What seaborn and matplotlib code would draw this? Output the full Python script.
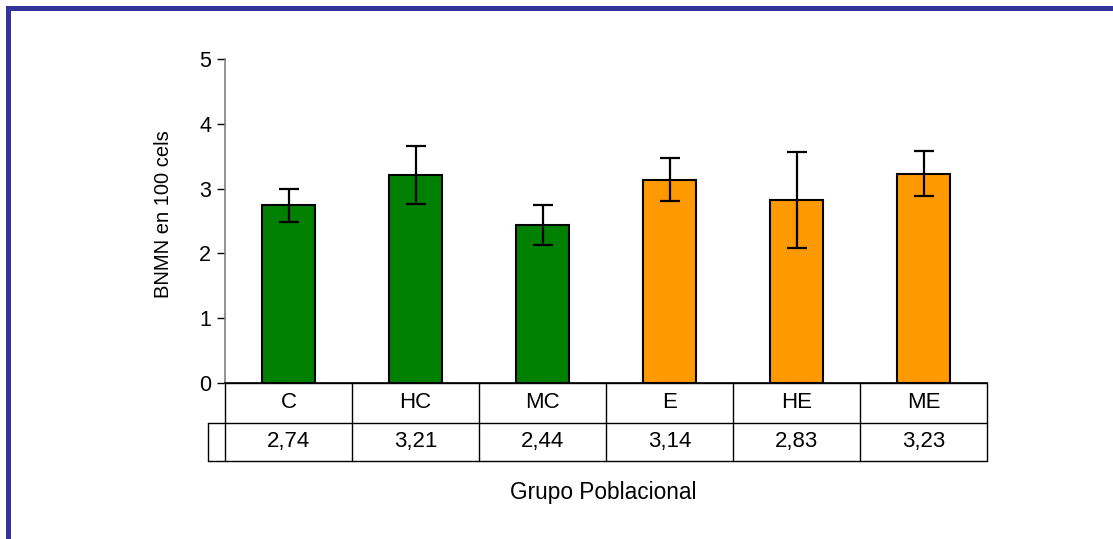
import numpy as np
import pandas as pd
import matplotlib
matplotlib.use("Agg")
import matplotlib.pyplot as plt
import matplotlib.transforms as mtransforms
from matplotlib.lines import Line2D
from matplotlib.patches import Rectangle
import seaborn as sns

# -------------------- data --------------------
categories = ["C", "HC", "MC", "E", "HE", "ME"]
values = [2.74, 3.21, 2.44, 3.14, 2.83, 3.23]
errors = [0.25, 0.45, 0.31, 0.33, 0.74, 0.35]
groups = ["control", "control", "control", "expuesto", "expuesto", "expuesto"]
value_labels = ["2,74", "3,21", "2,44", "3,14", "2,83", "3,23"]
# ----------------------------------------------

W, H, DPI = 1113, 539, 100
GREEN = "#008000"
ORANGE = "#FF9900"
FRAME = "#333399"

sns.set_style("white")
plt.rcParams["font.family"] = ["Liberation Sans", "DejaVu Sans"]
plt.rcParams["text.color"] = "black"
plt.rcParams["axes.labelcolor"] = "black"
plt.rcParams["ytick.color"] = "black"

df = pd.DataFrame({"grupo": categories, "bnmn": values, "tipo": groups})

fig = plt.figure(figsize=(W / DPI, H / DPI), dpi=DPI)
ax = fig.add_axes([225 / W, 1 - 383 / H, (987 - 225) / W, (383 - 59) / H])

sns.barplot(data=df, x="grupo", y="bnmn", hue="tipo",
            palette={"control": GREEN, "expuesto": ORANGE}, saturation=1,
            dodge=False, width=0.41, edgecolor="black", linewidth=1.5,
            legend=False, ax=ax)

xpos = np.arange(len(categories))
ax.errorbar(xpos, values, yerr=errors, fmt="none", ecolor="black",
            elinewidth=1.6, capsize=7, capthick=1.6, zorder=5)

ax.set_xlim(-0.5, len(categories) - 0.5)
ax.set_ylim(0, 5)
ax.set_yticks([0, 1, 2, 3, 4, 5])
ax.tick_params(axis="y", labelsize=15.5, length=6, width=1, color="black",
               left=True, pad=4)
ax.tick_params(axis="x", bottom=False, labelbottom=False)
ax.set_xlabel("")
ax.set_ylabel("BNMN en 100 cels", fontsize=14.5)
ax.yaxis.set_label_coords(-0.068, 0.522)

for side in ["top", "right"]:
    ax.spines[side].set_visible(False)
ax.spines["left"].set_color("#808080")
ax.spines["left"].set_linewidth(1.2)
ax.spines["bottom"].set_color("black")
ax.spines["bottom"].set_linewidth(1.2)

# data table under the axis
trans = mtransforms.blended_transform_factory(ax.transData, ax.transAxes)
px = 1.0 / (383 - 59)
row1 = -40 * px
row2 = -78 * px
left_key = -0.5 - 17 / ((987 - 225) / len(categories))
right = len(categories) - 0.5
lkw = dict(color="black", lw=1.0, transform=trans, clip_on=False)

ax.add_line(Line2D([-0.5, right], [0, 0], **lkw))
ax.add_line(Line2D([left_key, right], [row1, row1], **lkw))
ax.add_line(Line2D([left_key, right], [row2, row2], **lkw))
ax.add_line(Line2D([left_key, left_key], [row1, row2], **lkw))
for i in range(len(categories) + 1):
    ax.add_line(Line2D([i - 0.5, i - 0.5], [0, row2], **lkw))

for i, (cat, lab) in enumerate(zip(categories, value_labels)):
    ax.text(i, row1 / 2, cat, transform=trans, ha="center", va="center",
            fontsize=16)
    ax.text(i, (row1 + row2) / 2, lab, transform=trans, ha="center",
            va="center", fontsize=16)

fig.text(603 / W, 1 - 493 / H, "Grupo Poblacional", ha="center",
         va="center", fontsize=16.3)

# blue frame (top and left edges)
fig.add_artist(Rectangle((6 / W, 1 - 11 / H), 1, 5 / H, transform=fig.transFigure,
                         facecolor=FRAME, edgecolor="none"))
fig.add_artist(Rectangle((6 / W, 0), 5 / W, 1 - 6 / H, transform=fig.transFigure,
                         facecolor=FRAME, edgecolor="none"))

fig.savefig("out.png", dpi=DPI)
